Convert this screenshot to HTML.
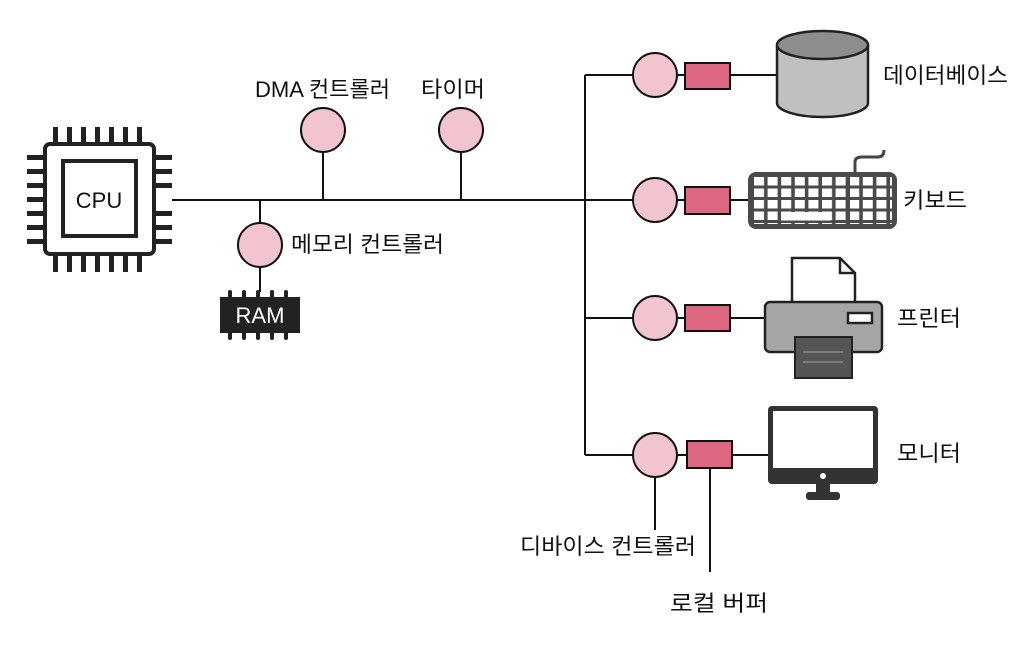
<!DOCTYPE html>
<html><head><meta charset="utf-8"><style>
html,body{margin:0;padding:0;background:#fff;}
svg{display:block;}
text{font-family:"Liberation Sans","Noto Sans CJK KR",sans-serif;font-size:22px;fill:#111;}
</style></head><body>
<svg width="1036" height="648" viewBox="0 0 1036 648" xmlns="http://www.w3.org/2000/svg">
<defs>
<pattern id="keys" x="754" y="177" width="13.6" height="11.5" patternUnits="userSpaceOnUse">
<rect x="0" y="0" width="10" height="8.5" fill="#fff"/>
</pattern>
</defs>
<g stroke="#111" stroke-width="2" fill="none">
<line x1="172" y1="200" x2="633" y2="200"/>
<line x1="585" y1="75" x2="585" y2="455"/>
<line x1="585" y1="75" x2="633" y2="75"/>
<line x1="585" y1="318" x2="633" y2="318"/>
<line x1="585" y1="455" x2="633" y2="455"/>
<line x1="323" y1="152" x2="323" y2="200"/>
<line x1="461" y1="152" x2="461" y2="200"/>
<line x1="260" y1="200" x2="260" y2="223"/>
<line x1="260" y1="267" x2="260" y2="292"/>
<line x1="677" y1="75" x2="685" y2="75"/><line x1="730" y1="75" x2="777" y2="75"/>
<line x1="677" y1="200" x2="685" y2="200"/><line x1="730" y1="200" x2="748" y2="200"/>
<line x1="677" y1="318" x2="685" y2="318"/><line x1="730" y1="318" x2="765" y2="318"/>
<line x1="677" y1="455" x2="687" y2="455"/><line x1="732" y1="455" x2="768" y2="455"/>
<line x1="655" y1="477" x2="655" y2="530"/>
<line x1="710" y1="468" x2="710" y2="572"/>
</g>
<g fill="#222">
<rect x="53" y="127" width="5" height="16"/><rect x="67" y="127" width="5" height="16"/><rect x="81" y="127" width="5" height="16"/><rect x="95" y="127" width="5" height="16"/><rect x="109" y="127" width="5" height="16"/><rect x="123" y="127" width="5" height="16"/><rect x="137" y="127" width="5" height="16"/>
<rect x="53" y="255" width="5" height="17"/><rect x="67" y="255" width="5" height="17"/><rect x="81" y="255" width="5" height="17"/><rect x="95" y="255" width="5" height="17"/><rect x="109" y="255" width="5" height="17"/><rect x="123" y="255" width="5" height="17"/><rect x="137" y="255" width="5" height="17"/>
<rect x="27" y="155" width="17" height="5"/><rect x="27" y="169" width="17" height="5"/><rect x="27" y="183" width="17" height="5"/><rect x="27" y="197" width="17" height="5"/><rect x="27" y="211" width="17" height="5"/><rect x="27" y="225" width="17" height="5"/><rect x="27" y="239" width="17" height="5"/>
<rect x="154" y="155" width="18" height="5"/><rect x="154" y="169" width="18" height="5"/><rect x="154" y="183" width="18" height="5"/><rect x="154" y="211" width="18" height="5"/><rect x="154" y="225" width="18" height="5"/><rect x="154" y="239" width="18" height="5"/>
</g>
<rect x="45" y="144" width="109" height="110" rx="5" fill="#fff" stroke="#222" stroke-width="4"/>
<rect x="63" y="161" width="73" height="75" fill="#fff" stroke="#222" stroke-width="4"/>
<text x="99" y="208" text-anchor="middle" font-size="24">CPU</text>
<g fill="#222">
<rect x="228" y="290" width="4" height="10" rx="2"/><rect x="242" y="290" width="4" height="10" rx="2"/><rect x="256" y="290" width="4" height="10" rx="2"/><rect x="270" y="290" width="4" height="10" rx="2"/><rect x="284" y="290" width="4" height="10" rx="2"/>
<rect x="228" y="330" width="4" height="10" rx="2"/><rect x="242" y="330" width="4" height="10" rx="2"/><rect x="256" y="330" width="4" height="10" rx="2"/><rect x="270" y="330" width="4" height="10" rx="2"/><rect x="284" y="330" width="4" height="10" rx="2"/>
<rect x="220" y="297" width="80" height="36"/>
</g>
<text x="260" y="323" text-anchor="middle" style="fill:#fff" font-size="20">RAM</text>
<g fill="#f2c4cf" stroke="#111" stroke-width="2">
<circle cx="323" cy="130" r="22"/><circle cx="461" cy="130" r="22"/><circle cx="260" cy="245" r="22"/>
<circle cx="655" cy="75" r="22"/><circle cx="655" cy="200" r="22"/><circle cx="655" cy="318" r="22"/><circle cx="655" cy="455" r="22"/>
</g>
<g fill="#dd6680" stroke="#111" stroke-width="2">
<rect x="685" y="63" width="45" height="26"/><rect x="685" y="187" width="45" height="27"/><rect x="685" y="305" width="45" height="26"/><rect x="687" y="441" width="45" height="27"/>
</g>
<path d="M777 45 L777 103 A45.5 14 0 0 0 868 103 L868 45" fill="#bfc1c1" stroke="#222" stroke-width="2.5"/>
<ellipse cx="822.5" cy="45" rx="45.5" ry="14" fill="#8c8e8e" stroke="#222" stroke-width="2.5"/>
<path d="M855 172 L855 162 Q855 157 862 157 L878 157 Q884 157 884 150" fill="none" stroke="#444" stroke-width="3"/>
<rect x="748" y="172" width="149" height="57" rx="8" fill="#4a4a4a"/>
<rect x="754" y="177" width="138" height="47" fill="url(#keys)"/>
<rect x="781" y="212" width="50" height="8.5" fill="#fff"/>
<rect x="846" y="177" width="4" height="48" fill="#4a4a4a"/>
<path d="M792 302 L792 258 L840 258 L855 273 L855 302" fill="#fff" stroke="#222" stroke-width="2.5"/>
<path d="M840 258 L840 273 L855 273" fill="none" stroke="#222" stroke-width="2.5"/>
<rect x="765" y="302" width="117" height="50" rx="5" fill="#a4a6a6" stroke="#222" stroke-width="2.5"/>
<rect x="848" y="313" width="24" height="10" fill="#fff" stroke="#222" stroke-width="2.5"/>
<rect x="795" y="337" width="57" height="41" fill="#555" stroke="#222" stroke-width="2"/>
<line x1="803" y1="352" x2="843" y2="352" stroke="#888" stroke-width="1.5"/>
<line x1="803" y1="362" x2="843" y2="362" stroke="#888" stroke-width="1.5"/>
<rect x="768" y="406" width="110" height="78" rx="4" fill="#333"/>
<rect x="773" y="411" width="100" height="57" fill="#fff"/>
<circle cx="823" cy="476" r="3" fill="#fff"/>
<rect x="816" y="484" width="14" height="8" fill="#333"/>
<rect x="806" y="492" width="34" height="8" rx="3" fill="#333"/>
<text x="255" y="97" textLength="135" lengthAdjust="spacingAndGlyphs">DMA 컨트롤러</text>
<text x="421" y="97" textLength="64" lengthAdjust="spacingAndGlyphs">타이머</text>
<text x="291" y="252" textLength="153" lengthAdjust="spacingAndGlyphs">메모리 컨트롤러</text>
<text x="883" y="83" textLength="125" lengthAdjust="spacingAndGlyphs">데이터베이스</text>
<text x="903" y="208" textLength="64" lengthAdjust="spacingAndGlyphs">키보드</text>
<text x="897" y="326" textLength="64" lengthAdjust="spacingAndGlyphs">프린터</text>
<text x="897" y="461" textLength="64" lengthAdjust="spacingAndGlyphs">모니터</text>
<text x="520" y="554" textLength="176" lengthAdjust="spacingAndGlyphs">디바이스 컨트롤러</text>
<text x="670" y="611" textLength="98" lengthAdjust="spacingAndGlyphs">로컬 버퍼</text>
</svg>
</body></html>
